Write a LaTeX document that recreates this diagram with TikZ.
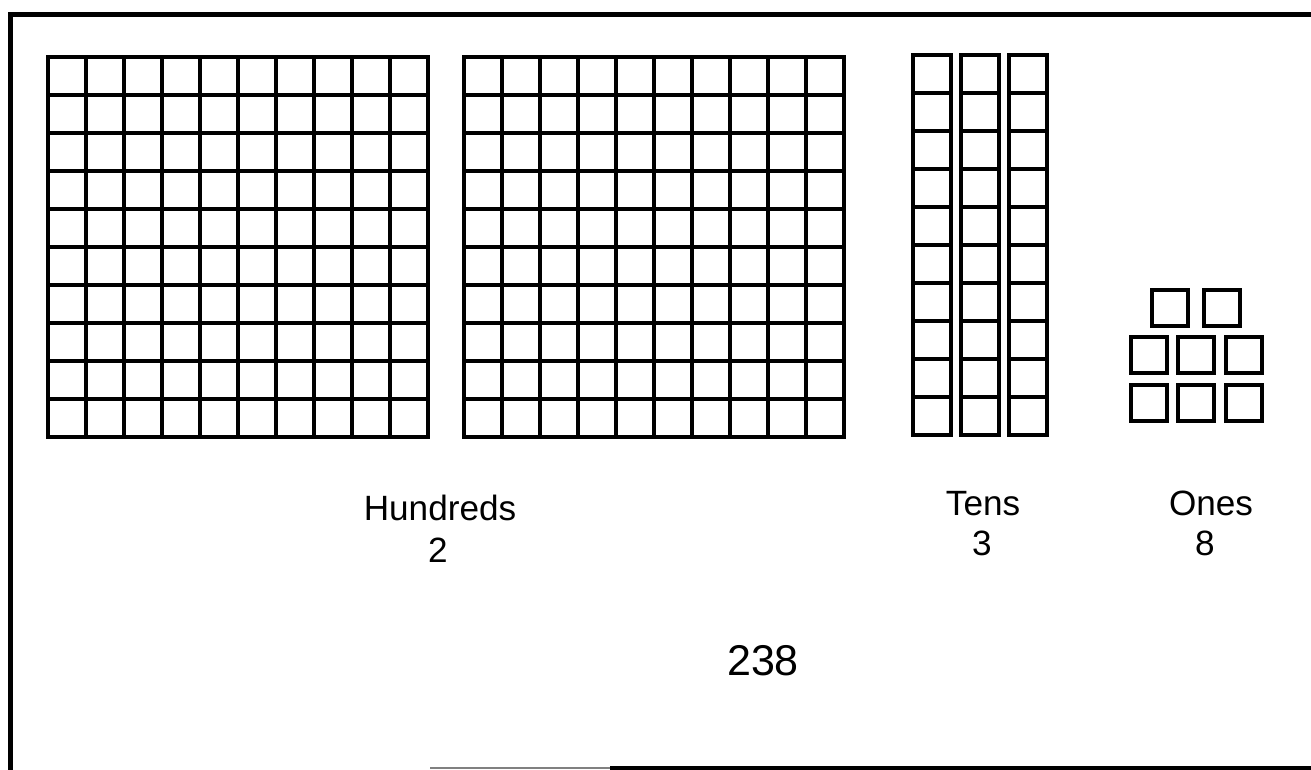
\documentclass[tikz,border=0pt]{standalone}
\usepackage{fontspec}
\setmainfont{Liberation Sans}
\begin{document}
\begin{tikzpicture}[
    x=0.02cm,y=-0.02cm,
    frame/.style={line width=2.8pt},
    cell/.style={line width=1.8pt},
    lbl/.style={font=\fontsize{20}{24}\selectfont,inner sep=0pt,anchor=base},
    total/.style={font=\fontsize{24.5}{29}\selectfont,inner sep=0pt,anchor=base}
  ]
    \useasboundingbox (0,0) rectangle (1311,770);
    % outer frame
    \draw[frame] (1311,14.5) -- (10.5,14.5) -- (10.5,770);
    \draw[gray,line width=0.6pt] (430,768) -- (610,768);
    \draw[frame] (610,768) -- (1311,768);
    % hundreds
    \foreach \gx in {48,464} {
      \draw[cell] (\gx,57) rectangle +(380,380);
      \foreach \i in {1,...,9} {
        \draw[cell] (\gx+\i*38,57) -- +(0,380);
        \draw[cell] (\gx,57+\i*38) -- +(380,0);
      }
    }
    % tens
    \foreach \tx in {913,961,1009} {
      \draw[cell] (\tx,55) rectangle +(38,380);
      \foreach \j in {1,...,9}
        \draw[cell] (\tx,55+\j*38) -- +(38,0);
    }
    % ones
    \foreach \ox in {1152,1204}
      \draw[cell] (\ox,290) rectangle +(36,36);
    \foreach \oy in {337,385}
      \foreach \ox in {1131,1178,1226}
        \draw[cell] (\ox,\oy) rectangle +(36,36);
    % labels
    \node[lbl] (hundreds) at (440,520) {Hundreds};
    \node[lbl] (hundredsnum) at (438,562) {2};
    \node[lbl] (tens) at (983,515) {Tens};
    \node[lbl] (tensnum) at (982,555) {3};
    \node[lbl] (ones) at (1211,515) {Ones};
    \node[lbl] (onesnum) at (1205,555) {8};
    \node[total] (number) at (763,675) {238};
  \end{tikzpicture}
\end{document}
